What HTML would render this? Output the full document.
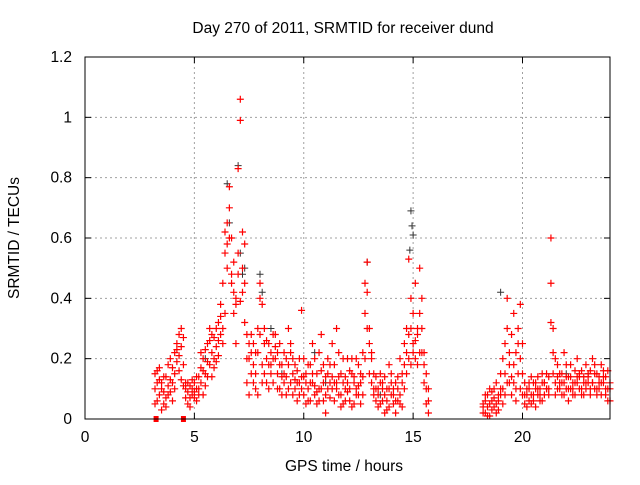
<!DOCTYPE html>
<html><head><meta charset="utf-8"><style>
body{margin:0;background:#fff}
svg text{font-family:"Liberation Sans",sans-serif;font-size:15.5px;fill:#000}
</style></head><body>
<svg id="c" width="640" height="480" xmlns="http://www.w3.org/2000/svg"></svg>
<script>
const xTicks=[0,5,10,15,20];
const yTicks=[0,0.2,0.4,0.6,0.8,1,1.2];
const yTickLabels=["0","0.2","0.4","0.6","0.8","1","1.2"];
const hoursA=[3.2,3.3,3.4,3.5,3.6,3.7,3.8,3.9,4.0,4.1,4.2,4.3,4.4,4.5,4.6,4.7,4.8,4.9,5.0,5.1,5.2,5.3,5.4,5.5,5.6,5.7,5.8,5.9,6.0,6.1,6.2,6.3,6.4,6.5,6.6,6.7,6.8,6.9,7.0,7.1,7.2,7.3,7.4,7.5,7.6,7.7,7.8,7.9,8.0,8.1,8.2,8.3,8.4,8.5,8.6,8.7,8.8,8.9,9.0,9.1,9.2,9.3,9.4,9.5,9.6,9.7,9.8,9.9,10.0,10.1,10.2,10.3,10.4,10.5,10.6,10.7,10.8,10.9,11.0,11.1,11.2,11.3,11.4,11.5,11.6,11.7,11.8,11.9,12.0,12.1,12.2,12.3,12.4,12.5,12.6,12.7,12.8,12.9,13.0,13.1,13.2,13.3,13.4,13.5,13.6,13.7,13.8,13.9,14.0,14.1,14.2,14.3,14.4,14.5,14.6,14.7,14.8,14.9,15.0,15.1,15.2,15.3,15.4,15.5,15.6,15.7,
18.2,18.3,18.4,18.5,18.6,18.7,18.8,18.9,19.0,19.1,19.2,19.3,19.4,19.5,19.6,19.7,19.8,19.9,20.0,20.1,20.2,20.3,20.4,20.5,20.6,20.7,20.8,20.9,21.0,21.1,21.2,21.3,21.4,21.5,21.6,21.7,21.8,21.9,22.0,22.1,22.2,22.3,22.4,22.5,22.6,22.7,22.8,22.9,23.0,23.1,23.2,23.3,23.4,23.5,23.6,23.7,23.8,23.9,24.0];
const redV1=[.15,.12,.08,.10,.05,.14,.18,.09,.12,.22,.25,.28,.30,.27,.10,
.09,.11,.08,.12,.10,.14,.17,.20,.23,.25,.18,.22,.27,.30,.32,.38,
.45,.62,.58,.77,.60,.52,.40,.55,1.06,.62,.45,
.28,.20,.15,.25,.22,.30,.45,.38,.25,.20,.18,.22,.28,.20,.15,.25,.18,.12,.20,.30,.22,.15,.18,.12,.20,.36,
.20,.15,.10,.18,.12,.08,.15,.22,.10,.06,.14,.20,.12,.25,.18,.10,.08,.15,.12,.06,.20,.10,.15,.05,.10,.18,.12,.08,
.45,.52,.30,.20,.15,.10,.08,.12,.06,.14,.10,.18,.08,.05,.12,.10,.20,.15,
.25,.30,.53,.40,.35,.45,.28,.50,.40,.22,.15,.06,
.05,.02,.08,.10,.06,.04,.12,.08,.15,
.20,.25,.30,.18,.28,.35,.22,.30,.38,.25,
.12,.08,.10,.14,.06,.12,.08,.10,.15,.12,.10,.14,
.60,.30,.20,.18,.12,.15,.22,.14,.10,.18,.12,.16,.20,.15,.10,.14,.18,.12,.16,.20,.10,.15,.12,.18,.14,.10,.16,.12];
const redV2=[.05,.16,.13,.03,.09,.07,.11,.20,.17,.15,.19,.21,.13,.18,.07,
.05,.07,.13,.09,.06,.10,.12,.08,.15,.19,.26,.14,.20,.24,.21,.28,
.30,.55,.65,.70,.48,.42,.38,.83,.99,.50,.58,
.12,.25,.28,.18,.10,.22,.40,.18,.30,.12,.25,.15,.20,.24,.22,.10,.14,.22,.08,.18,.12,.20,.10,.16,.08,.14,
.08,.12,.18,.06,.15,.20,.05,.10,.16,.12,.08,.10,.18,.14,.06,.12,.22,.08,.05,.14,.09,.16,.04,.12,.20,.08,.05,.14,
.35,.42,.25,.12,.08,.14,.10,.05,.12,.08,.03,.10,.12,.08,.02,.06,.08,.12,
.18,.22,.28,.30,.25,.20,.30,.35,.22,.18,.10,.02,
.02,.06,.04,.01,.09,.10,.05,.03,.08,
.10,.15,.12,.22,.14,.18,.10,.25,.20,.15,
.05,.10,.06,.08,.12,.04,.10,.06,.12,.08,.15,.10,
.45,.22,.12,.10,.15,.08,.12,.18,.14,.10,.08,.12,.14,.10,.16,.08,.12,.15,.10,.12,.15,.08,.10,.12,.16,.08,.10,.06];
const redV3=[.10,.06,.17,.12,.14,.04,.08,.13,.06,.10,.23,.16,.24,.11,.12,
.12,.04,.10,.07,.14,.08,.22,.16,.11,.14,.30,.28,.17,.19,.26,.34,
.25,.35,.50,.60,.45,.35,.25,.48,.39,.42,.32,
.20,.08,.22,.12,.15,.08,.28,.12,.15,.26,.10,.18,.12,.28,.10,.18,.08,.15,.14,.10,.25,.08,.13,.06,.12,.10,
.14,.05,.06,.12,.25,.11,.09,.06,.28,.18,.02,.15,.07,.10,.12,.30,.14,.04,.20,.10,.12,.06,.20,.14,.08,.11,.15,.22,
.20,.30,.15,.22,.10,.06,.04,.15,.10,.02,.06,.04,.15,.10,.06,.14,.05,.04,
.10,.15,.20,.18,.22,.26,.18,.22,.30,.12,.05,.10,
.04,.08,.01,.05,.03,.07,.02,.06,.10,
.05,.08,.40,.12,.08,.12,.06,.15,.10,.08,
.08,.04,.12,.05,.08,.10,.14,.08,.06,.12,.10,.08,
.32,.15,.08,.14,.10,.12,.08,.10,.06,.14,.10,.08,.12,.14,.08,.12,.10,.14,.08,.12,.18,.10,.14,.08,.12,.14,.06,.10];
const blackT=[6.5,6.6,7.0,7.1,7.2,8.0,8.1,12.9,14.9,14.95,15.0,14.85,19.0,5.5,9.0,11.0,13.5,22.0,23.0,10.5,12.0,8.5,6.4,7.3];
const blackV=[.78,.65,.84,.55,.48,.48,.42,.52,.69,.64,.61,.56,.42,.20,.15,.12,.08,.15,.15,.22,.20,.30,.62,.50];
const squareT=[3.25,4.5];

const NS="http://www.w3.org/2000/svg";
const svg=document.getElementById('c');
const L=85,R=610,T=57,B=419;
const X=h=>L+(h/24)*(R-L);
const Y=v=>B-(v/1.2)*(B-T);
function mk(tag,attrs,parent){const e=document.createElementNS(NS,tag);for(const k in attrs)e.setAttribute(k,attrs[k]);(parent||svg).appendChild(e);return e;}

const grid=mk('g',{});


xTicks.forEach(t=>{if(t>0)mk('line',{x1:X(t),x2:X(t),y1:T,y2:B,stroke:'#a0a0a0','stroke-dasharray':'2,3'},grid);});
yTicks.forEach(t=>{if(t>0&&t<1.2)mk('line',{x1:L,x2:R,y1:Y(t),y2:Y(t),stroke:'#a0a0a0','stroke-dasharray':'2,3'},grid);});

const bk=mk('g',{stroke:'#333','stroke-width':1});


blackT.forEach((t,i)=>{const x=X(t),y=Y(blackV[i]);mk('path',{d:`M${x-3.5},${y}h7M${x},${y-3.5}v7`},bk);});

const rd=mk('g',{stroke:'#ff0000','stroke-width':1.2});


[redV1,redV2,redV3].forEach(arr=>{
  hoursA.forEach((t,i)=>{const x=X(t),y=Y(arr[i]);mk('path',{d:`M${x-3.5},${y}h7M${x},${y-3.5}v7`},rd);});
});
squareT.forEach(t=>{const s=mk('rect',{x:X(t)-2.5,y:B-3,width:5,height:6,fill:'#ff0000',stroke:'none'},rd);

});

const ax=mk('g',{});


mk('rect',{x:L,y:T,width:R-L,height:B-T,fill:'none',stroke:'#000'},ax);
xTicks.forEach(t=>{
  mk('line',{x1:X(t),x2:X(t),y1:B,y2:B-6,stroke:'#000'},ax);
  mk('line',{x1:X(t),x2:X(t),y1:T,y2:T+6,stroke:'#000'},ax);
  const tx=mk('text',{x:X(t),y:442,'text-anchor':'middle'},ax);tx.textContent=t;
  
  
});
yTicks.forEach((t,i)=>{
  mk('line',{x1:L,x2:L+6,y1:Y(t),y2:Y(t),stroke:'#000'},ax);
  mk('line',{x1:R,x2:R-6,y1:Y(t),y2:Y(t),stroke:'#000'},ax);
  const tx=mk('text',{x:72,y:Y(t)+5,'text-anchor':'end'},ax);tx.textContent=yTickLabels[i];
  
  
});
const title=mk('text',{x:343,y:33,'text-anchor':'middle'});title.textContent='Day 270 of 2011, SRMTID for receiver dund';


const xl=mk('text',{x:344,y:471,'text-anchor':'middle'});xl.textContent='GPS time / hours';


const yl=mk('text',{x:0,y:0,'text-anchor':'middle',transform:'translate(19,238) rotate(-90)'});yl.textContent='SRMTID / TECUs';


</script>
</body></html>
